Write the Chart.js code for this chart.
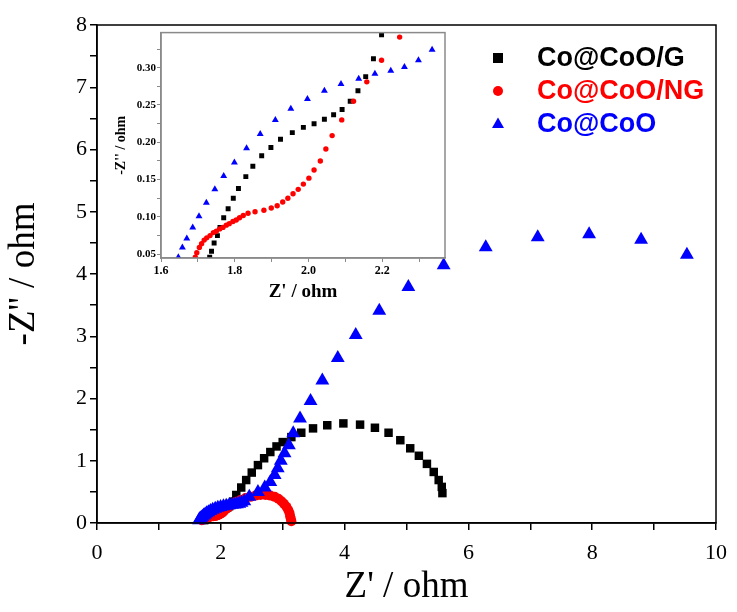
<!DOCTYPE html>
<html><head><meta charset="utf-8">
<script src="https://cdn.jsdelivr.net/npm/chart.js@4.4.1/dist/chart.umd.min.js"></script>
<style>
html,body{margin:0;padding:0;background:#fff;}
#wrap{position:relative;width:737px;height:612px;overflow:hidden;}
#main{position:absolute;left:0;top:0;}
#inset{position:absolute;left:100px;top:25px;}
</style></head><body>
<div id="wrap"><canvas id="main" width="737" height="612"></canvas><canvas id="inset" width="350" height="285"></canvas></div>
<script>
// ---- data ----
const seriesNames = ['Co@CoO/G', 'Co@CoO/NG', 'Co@CoO'];
const seriesColors = ['#000000', '#ff0000', '#0000ff'];
const seriesStyles = ['rect', 'circle', 'triangle'];

const gX = [1.732,1.737,1.744,1.753,1.760,1.770,1.782,1.796,1.810,1.830,1.849,1.873,1.898,1.924,1.956,1.986,2.015,2.043,2.068,2.091,2.113,2.134,2.155,2.176,2.198,
            2.25,2.33,2.41,2.50,2.60,2.70,2.80,2.90,3.00,3.14,3.30,3.49,3.72,3.98,4.25,4.49,4.71,4.90,5.06,5.20,5.33,5.44,5.52,5.57,5.58];
const gY = [0.046,0.054,0.065,0.075,0.086,0.099,0.111,0.125,0.138,0.154,0.168,0.182,0.193,0.204,0.213,0.220,0.225,0.231,0.237,0.244,0.255,0.269,0.288,0.312,0.344,
            0.45,0.57,0.69,0.81,0.93,1.04,1.14,1.23,1.30,1.38,1.45,1.52,1.57,1.60,1.58,1.53,1.45,1.33,1.20,1.08,0.95,0.82,0.69,0.58,0.48];

const ngX = [1.693,1.697,1.704,1.710,1.717,1.724,1.733,1.742,1.750,1.759,1.768,1.777,1.785,1.795,1.804,1.813,1.823,1.836,1.855,1.879,1.899,1.915,1.930,1.944,1.958,1.972,1.986,2.001,2.015,2.032,2.047,2.064,2.090,2.122,2.158,2.198,2.247,
             2.32,2.40,2.48,2.56,2.64,2.72,2.80,2.87,2.93,2.98,3.02,3.06,3.09,3.11,3.12,3.13,3.14];
const ngY = [0.046,0.052,0.059,0.064,0.069,0.072,0.075,0.079,0.081,0.084,0.086,0.089,0.091,0.094,0.096,0.099,0.102,0.105,0.107,0.109,0.112,0.115,0.120,0.125,0.131,0.137,0.144,0.152,0.163,0.175,0.191,0.209,0.230,0.255,0.281,0.310,0.341,
             0.37,0.40,0.42,0.44,0.45,0.45,0.44,0.42,0.39,0.35,0.31,0.26,0.21,0.16,0.11,0.07,0.03];

const cX = [1.647,1.658,1.670,1.686,1.703,1.723,1.746,1.770,1.799,1.832,1.869,1.910,1.952,1.997,2.043,2.088,2.136,2.180,2.223,2.260,2.298,2.335,
            2.38,2.46,2.60,2.71,2.80,2.87,2.92,2.97,3.03,3.10,3.17,3.28,3.45,3.64,3.89,4.18,4.56,5.03,5.60,6.28,7.12,7.95,8.79,9.53];
const cY = [0.046,0.059,0.071,0.086,0.101,0.119,0.137,0.155,0.173,0.192,0.211,0.230,0.245,0.258,0.269,0.278,0.285,0.292,0.296,0.301,0.310,0.324,
            0.35,0.42,0.50,0.57,0.66,0.77,0.88,1.00,1.12,1.25,1.44,1.68,1.96,2.29,2.65,3.02,3.41,3.79,4.14,4.43,4.59,4.64,4.55,4.31];

const mainXTicks = [0, 2, 4, 6, 8, 10];
const mainYTicks = [0, 1, 2, 3, 4, 5, 6, 7, 8];
const insetXTicks = [1.6, 1.8, 2.0, 2.2];
const insetYTicks = [0.05, 0.10, 0.15, 0.20, 0.25, 0.30];

const xsAll = [gX, ngX, cX];
const ysAll = [gY, ngY, cY];

function pts(xs, ys) { return xs.map((x, i) => ({ x: x, y: ys[i] })); }

function makeDatasets(radii, clip) {
  return seriesNames.map((name, i) => ({
    label: name,
    data: pts(xsAll[i], ysAll[i]),
    pointStyle: seriesStyles[i],
    pointRadius: radii[i],
    pointHoverRadius: radii[i],
    backgroundColor: seriesColors[i],
    borderColor: seriesColors[i],
    borderWidth: 0,
    showLine: false,
    order: 2 - i,
    clip: clip
  }));
}

function near(v, list, eps) { return list.some(t => Math.abs(t - v) < eps); }

// ---- plugins ----
const frameMain = {
  id: 'frameMain',
  afterDraw(chart) {
    const { ctx, chartArea: a } = chart;
    ctx.save();
    ctx.strokeStyle = '#000';
    ctx.lineWidth = 1.5;
    ctx.strokeRect(a.left, a.top, a.right - a.left, a.bottom - a.top);
    ctx.restore();
  }
};

function drawMarker(ctx, style, x, y, s, color) {
  ctx.fillStyle = color;
  ctx.beginPath();
  if (style === 'rect') {
    ctx.rect(x - s / 2, y - s / 2, s, s);
  } else if (style === 'circle') {
    ctx.arc(x, y, s / 2, 0, Math.PI * 2);
  } else {
    const h = s * Math.sqrt(3) / 2;
    ctx.moveTo(x, y - h * 0.62);
    ctx.lineTo(x + s / 2, y + h * 0.38);
    ctx.lineTo(x - s / 2, y + h * 0.38);
    ctx.closePath();
  }
  ctx.fill();
}

const insideLegend = {
  id: 'insideLegend',
  afterDraw(chart) {
    const { ctx, chartArea: a } = chart;
    ctx.save();
    ctx.font = 'bold 27px "Liberation Sans", Arial, sans-serif';
    ctx.textBaseline = 'middle';
    ctx.textAlign = 'left';
    seriesNames.forEach((name, i) => {
      const y = a.top + 33 + i * 33;
      drawMarker(ctx, seriesStyles[i], a.left + 401, y, i === 2 ? 12 : 10, seriesColors[i]);
      ctx.fillStyle = seriesColors[i];
      ctx.fillText(name, a.left + 440, y + 1);
    });
    ctx.restore();
  }
};

const insetBg = {
  id: 'insetBg',
  beforeDraw(chart) {
    const { ctx, chartArea: a } = chart;
    ctx.save();
    ctx.fillStyle = '#fff';
    ctx.fillRect(a.left, a.top, a.right - a.left, a.bottom - a.top);
    ctx.restore();
  },
  afterDraw(chart) {
    const { ctx, chartArea: a } = chart;
    ctx.save();
    ctx.strokeStyle = '#8a8a8a';
    ctx.lineWidth = 1.5;
    ctx.strokeRect(a.left, a.top, a.right - a.left, a.bottom - a.top);
    ctx.restore();
  }
};

// ---- main chart ----
new Chart(document.getElementById('main'), {
  type: 'scatter',
  data: { datasets: makeDatasets([6, 5, 8], false) },
  options: {
    responsive: false,
    animation: false,
    layout: { padding: { top: 25, right: 19, left: 0, bottom: 0 } },
    plugins: { legend: { display: false }, tooltip: { enabled: false } },
    scales: {
      x: {
        type: 'linear', min: 0, max: 10,
        ticks: {
          stepSize: 1, autoSkip: false, maxRotation: 0, padding: 10, color: '#000',
          font: { family: '"Liberation Serif", "Times New Roman", serif', size: 22 },
          callback: v => near(v, mainXTicks, 1e-6) ? String(v) : ''
        },
        grid: { drawOnChartArea: false, drawTicks: true, tickLength: 7, color: '#000', lineWidth: 1.5 },
        border: { display: true, color: '#000', width: 1.5 },
        title: { display: true, text: "Z' / ohm", color: '#000', padding: { top: 0, bottom: 3 },
                 font: { family: '"Liberation Serif", "Times New Roman", serif', size: 37 } },
        afterFit(s) { s.height = 89; }
      },
      y: {
        type: 'linear', min: 0, max: 8,
        ticks: {
          stepSize: 0.5, autoSkip: false, padding: 3, color: '#000',
          font: { family: '"Liberation Serif", "Times New Roman", serif', size: 22 },
          callback: v => near(v, mainYTicks, 1e-6) ? String(v) : ''
        },
        grid: { drawOnChartArea: false, drawTicks: true, tickLength: 7, color: '#000', lineWidth: 1.5 },
        border: { display: true, color: '#000', width: 1.5 },
        title: { display: true, text: "-Z'' / ohm", color: '#000', padding: { top: 2, bottom: 0 },
                 font: { family: '"Liberation Serif", "Times New Roman", serif', size: 37 } },
        afterFit(s) { s.width = 97; }
      }
    }
  },
  plugins: [frameMain, insideLegend]
});

// ---- inset chart ----
new Chart(document.getElementById('inset'), {
  type: 'scatter',
  data: { datasets: makeDatasets([3.5, 2.7, 4], 0) },
  options: {
    responsive: false,
    animation: false,
    layout: { padding: { top: 7, right: 5, left: 0, bottom: 0 } },
    plugins: { legend: { display: false }, tooltip: { enabled: false } },
    scales: {
      x: {
        type: 'linear', min: 1.6, max: 2.37,
        ticks: {
          stepSize: 0.1, includeBounds: false, autoSkip: false, maxRotation: 0, padding: 2, color: '#000',
          font: { family: '"Liberation Serif", "Times New Roman", serif', size: 12, weight: 'bold' },
          callback: v => near(v, insetXTicks, 1e-6) ? v.toFixed(1) : ''
        },
        grid: { drawOnChartArea: false, drawTicks: true, tickLength: 4, color: '#8a8a8a', lineWidth: 1 },
        border: { display: true, color: '#8a8a8a', width: 1.5 },
        title: { display: true, text: "Z' / ohm", color: '#000', padding: { top: 0, bottom: 7 },
                 font: { family: '"Liberation Serif", "Times New Roman", serif', size: 19, weight: 'bold' } },
        afterFit(s) { s.height = 52; }
      },
      y: {
        type: 'linear', min: 0.045, max: 0.347,
        ticks: {
          stepSize: 0.025, includeBounds: false, autoSkip: false, padding: 1, color: '#000',
          font: { family: '"Liberation Serif", "Times New Roman", serif', size: 11, weight: 'bold' },
          callback: v => near(v, insetYTicks, 1e-6) ? v.toFixed(2) : ''
        },
        grid: { drawOnChartArea: false, drawTicks: true, tickLength: 4, color: '#8a8a8a', lineWidth: 1 },
        border: { display: true, color: '#8a8a8a', width: 1.5 },
        title: { display: true, text: "-Z'' / ohm", color: '#000', padding: { top: 13, bottom: 0 },
                 font: { family: '"Liberation Serif", "Times New Roman", serif', size: 14, weight: 'bold' } },
        afterFit(s) { s.width = 61; }
      }
    }
  },
  plugins: [insetBg]
});
</script>
</body></html>
